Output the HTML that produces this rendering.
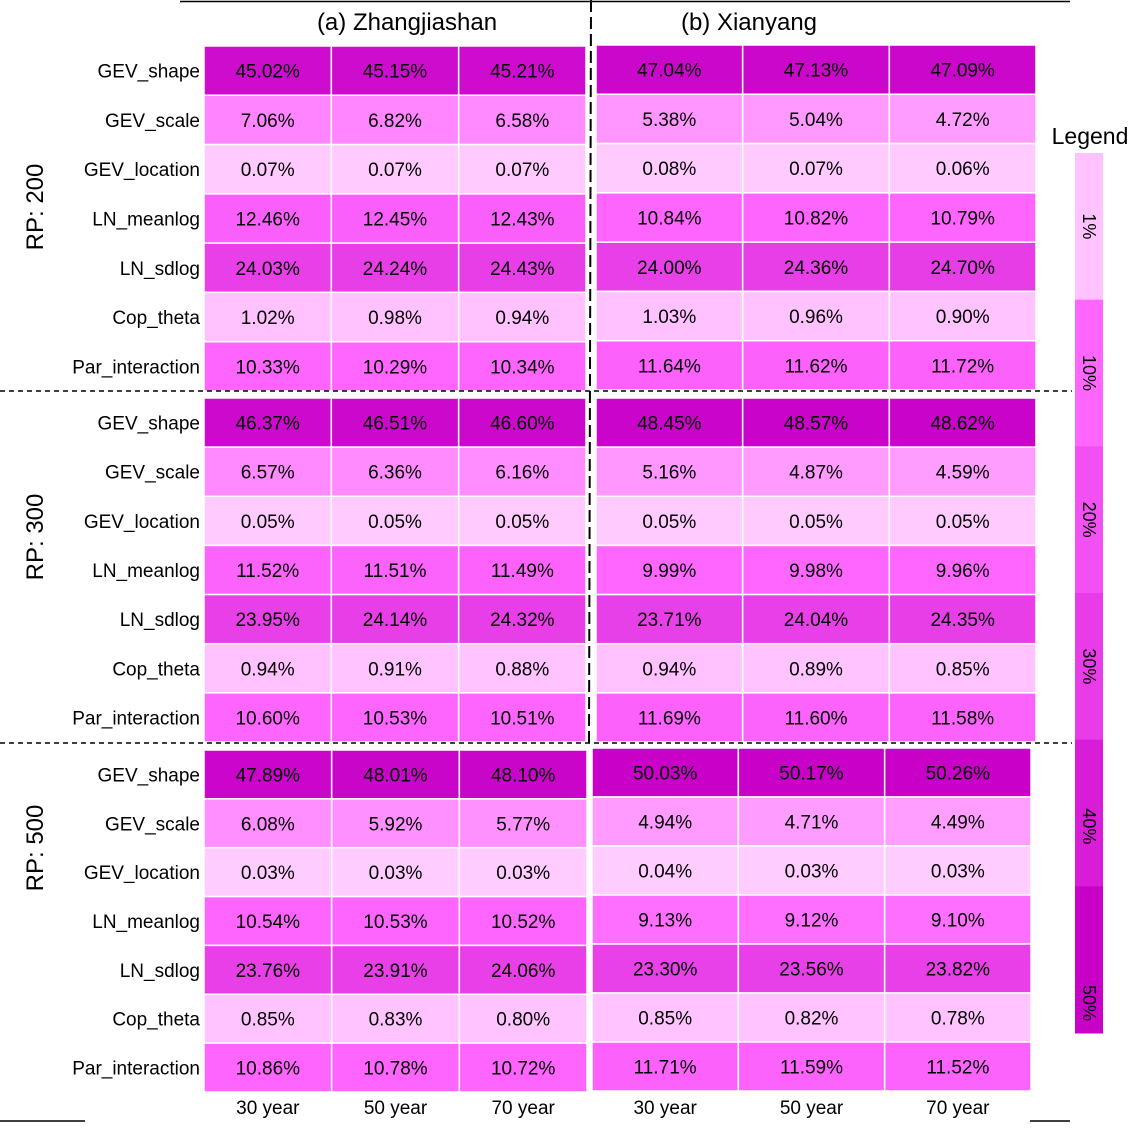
<!DOCTYPE html>
<html><head><meta charset="utf-8"><style>
body{margin:0;background:#fff}
svg text{font-family:"Liberation Sans","DejaVu Sans",sans-serif}
</style></head><body>
<svg id="c" width="1131" height="1124" xmlns="http://www.w3.org/2000/svg">
<line x1="180" y1="1.5" x2="1070" y2="1.5" stroke="#000" stroke-width="1.5"/>
<line x1="0" y1="1121" x2="85" y2="1121" stroke="#000" stroke-width="1.5"/>
<line x1="1030" y1="1121" x2="1070" y2="1121" stroke="#000" stroke-width="1.5"/>
<text x="407" y="30" font-size="24" text-anchor="middle">(a) Zhangjiashan</text>
<text x="749" y="30" font-size="24" text-anchor="middle">(b) Xianyang</text>
<g id="g"></g>
<line x1="591" y1="0" x2="589" y2="746" stroke="#000" stroke-width="2" stroke-dasharray="12,5"/>
<line x1="0" y1="391" x2="1072" y2="391" stroke="#000" stroke-width="1.5" stroke-dasharray="5,4"/>
<line x1="0" y1="743" x2="1072" y2="743" stroke="#000" stroke-width="1.5" stroke-dasharray="5,4"/>
<text x="1090" y="144" font-size="23" text-anchor="middle">Legend</text>
<g id="lg"></g>
</svg>
<script>
const params=["GEV_shape","GEV_scale","GEV_location","LN_meanlog","LN_sdlog","Cop_theta","Par_interaction"];
const periods=["30 year","50 year","70 year"];
const rps=["RP: 200","RP: 300","RP: 500"];
const zhang200=[[45.02,45.15,45.21],[7.06,6.82,6.58],[0.07,0.07,0.07],[12.46,12.45,12.43],[24.03,24.24,24.43],[1.02,0.98,0.94],[10.33,10.29,10.34]];
const zhang300=[[46.37,46.51,46.60],[6.57,6.36,6.16],[0.05,0.05,0.05],[11.52,11.51,11.49],[23.95,24.14,24.32],[0.94,0.91,0.88],[10.60,10.53,10.51]];
const zhang500=[[47.89,48.01,48.10],[6.08,5.92,5.77],[0.03,0.03,0.03],[10.54,10.53,10.52],[23.76,23.91,24.06],[0.85,0.83,0.80],[10.86,10.78,10.72]];
const xian200=[[47.04,47.13,47.09],[5.38,5.04,4.72],[0.08,0.07,0.06],[10.84,10.82,10.79],[24.00,24.36,24.70],[1.03,0.96,0.90],[11.64,11.62,11.72]];
const xian300=[[48.45,48.57,48.62],[5.16,4.87,4.59],[0.05,0.05,0.05],[9.99,9.98,9.96],[23.71,24.04,24.35],[0.94,0.89,0.85],[11.69,11.60,11.58]];
const xian500=[[50.03,50.17,50.26],[4.94,4.71,4.49],[0.04,0.03,0.03],[9.13,9.12,9.10],[23.30,23.56,23.82],[0.85,0.82,0.78],[11.71,11.59,11.52]];
const legendLabels=["1%","10%","20%","30%","40%","50%"];
const legendColors=["#ffc2ff","#ff66ff","#f250f2","#e83ce8","#d81cd8","#c800c8"];
const rpLabelY=[207,537,848];
const NS="http://www.w3.org/2000/svg";
const g=document.getElementById('g');
function lerp(a,b,t){return Math.round(a+(b-a)*t);}
function color(v){
 const st=[[0,[255,204,255]],[10,[255,102,255]],[25,[230,60,230]],[50,[200,0,200]]];
 if(v>=50)v=50;
 for(let i=0;i<st.length-1;i++){const [a,ca]=st[i],[b,cb]=st[i+1];
  if(v<=b){const t=(v-a)/(b-a);return `rgb(${lerp(ca[0],cb[0],t)},${lerp(ca[1],cb[1],t)},${lerp(ca[2],cb[2],t)})`;}}
}
function el(tag,attrs){const e=document.createElementNS(NS,tag);for(const k in attrs)e.setAttribute(k,attrs[k]);return e;}
function block(data,x0,x1,y0,y1,name,labels,rpIdx){
 const cw=(x1-x0)/3,rh=(y1-y0)/7;
 data.forEach((row,r)=>{row.forEach((v,c)=>{
  const rect=el('rect',{x:x0+c*cw,y:y0+r*rh,width:cw,height:rh,fill:color(v),stroke:'#fff','stroke-width':1.5});
  
  
  g.appendChild(rect);
  const t=el('text',{x:x0+c*cw+cw/2,y:y0+r*rh+rh/2+7,'font-size':19,'text-anchor':'middle'});
  t.textContent=v.toFixed(2)+'%';
  
  
  g.appendChild(t);
 });
 if(labels){const t=el('text',{x:x0-4,y:y0+r*rh+rh/2+7,'font-size':19,'text-anchor':'end'});
  t.textContent=params[r];
  
  
  g.appendChild(t);}
 });
 if(labels){const cy=rpLabelY[rpIdx];const t=el('text',{x:43,y:cy,'font-size':24,'text-anchor':'middle',transform:`rotate(-90 43 ${cy})`});
  t.textContent=rps[rpIdx];
  
  
  g.appendChild(t);}
}
block(zhang200,204,586,46,391,'a',true,0);
block(zhang300,204,586,398,742,'a',true,1);
block(zhang500,204,587,750,1092,'a',true,2);
block(xian200,596,1036,45,390,'b',false,0);
block(xian300,596,1036,398,742,'b',false,1);
block(xian500,592,1031,748,1091,'b',false,2);
[[204,587],[592,1031]].forEach(([a,b])=>{const cw=(b-a)/3;periods.forEach((p,i)=>{
 const t=el('text',{x:a+cw*i+cw/2,y:1114,'font-size':19,'text-anchor':'middle'});
 t.textContent=p;
 
 
 g.appendChild(t);});});
const lg=document.getElementById('lg');
const ly0=153,lh=(1033-153)/6;
legendLabels.forEach((l,i)=>{
 const r=el('rect',{x:1075,y:ly0+i*lh,width:28,height:lh+0.5,fill:legendColors[i]});
 
 
 lg.appendChild(r);
 const ty=ly0+i*lh+(i==5?lh-30:i==4?lh-60:lh/2);
 const t=el('text',{x:1083,y:ty,'font-size':18,'text-anchor':'middle',transform:`rotate(90 1083 ${ty})`});
 t.textContent=l;
 
 
 lg.appendChild(t);
});
</script>
</body></html>
